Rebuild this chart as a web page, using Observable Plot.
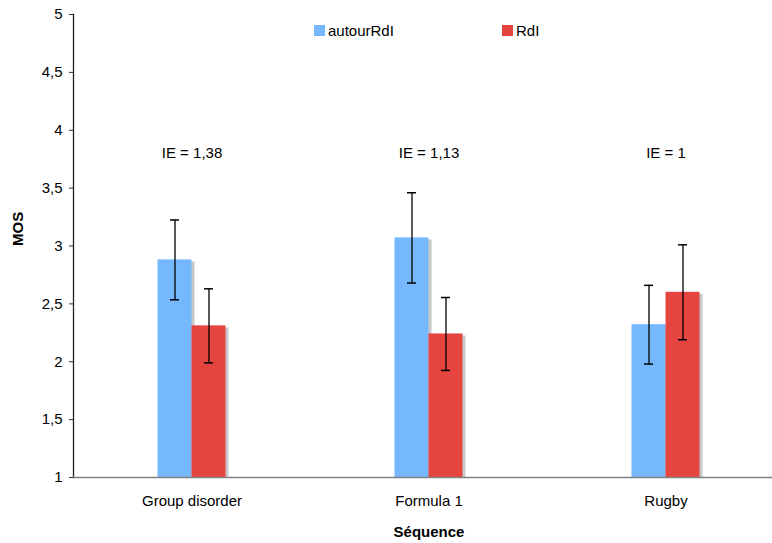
<!DOCTYPE html>
<html>
<head>
<meta charset="utf-8">
<script src="https://cdn.jsdelivr.net/npm/d3@7"></script>
<script src="https://cdn.jsdelivr.net/npm/@observablehq/plot@0.6"></script>
<style>
  html, body { margin: 0; padding: 0; background: #fff; }
  #wrap { position: relative; width: 772px; height: 543px; font-family: "Liberation Sans", Arial, sans-serif; }
  #legend { position: absolute; top: 22px; left: 0; width: 772px; font-size: 15px; color: #000; }
  .item { position: absolute; display: flex; align-items: center; }
  .sw { width: 11px; height: 11px; margin-right: 3px; }
</style>
</head>
<body>
<div id="wrap">
  <div id="chart"></div>
  <div id="legend"></div>
</div>
<script>
const categories = ["Group disorder", "Formula 1", "Rugby"];
const seriesNames = ["autourRdI", "RdI"];
const autourMean = [2.88, 3.07, 2.32];
const autourErr  = [0.345, 0.39, 0.34];
const rdiMean    = [2.31, 2.24, 2.60];
const rdiErr     = [0.32, 0.315, 0.41];
const ieLabels   = ["IE = 1,38", "IE = 1,13", "IE = 1"];
const yTicks     = [1, 1.5, 2, 2.5, 3, 3.5, 4, 4.5, 5];
const ieLevel    = 3.8;

const colors = { "autourRdI": "#75b8fd", "RdI": "#e6453f" };
const shadow = "#c8c8c8";

const autourRows = categories.map((c, i) => ({ cat: c, series: seriesNames[0], mean: autourMean[i], lo: autourMean[i] - autourErr[i], hi: autourMean[i] + autourErr[i] }));
const rdiRows = categories.map((c, i) => ({ cat: c, series: seriesNames[1], mean: rdiMean[i], lo: rdiMean[i] - rdiErr[i], hi: rdiMean[i] + rdiErr[i] }));
const ieRows = categories.map((c, i) => ({ cat: c, label: ieLabels[i] }));

const xRange = [73, 784];
const half = (xRange[1] - xRange[0]) / categories.length / 2;
const barW = 34;
const capW = 9;
const font = "Liberation Sans, Arial, sans-serif";

function insets(side) {
  return side < 0 ? { insetLeft: half - barW, insetRight: half } : { insetLeft: half, insetRight: half - barW };
}
function shadowMarks(rows, side) {
  return [Plot.barY(rows, { x: "cat", y1: 1, y2: "mean", fill: shadow, ...insets(side), dx: 3, dy: 2, insetBottom: 2 })];
}
function frontMarks(rows, side, color) {
  return [Plot.barY(rows, { x: "cat", y1: 1, y2: "mean", fill: color, ...insets(side) })];
}
function errMarks(rows, side) {
  const off = side * barW / 2;
  return [
    Plot.ruleX(rows, { x: "cat", y1: "lo", y2: "hi", dx: off, stroke: "#000", strokeWidth: 1.3 }),
    Plot.tickY(rows, { x: "cat", y: "hi", dx: off, stroke: "#000", strokeWidth: 1.5, insetLeft: half - capW / 2, insetRight: half - capW / 2 }),
    Plot.tickY(rows, { x: "cat", y: "lo", dx: off, stroke: "#000", strokeWidth: 1.5, insetLeft: half - capW / 2, insetRight: half - capW / 2 })
  ];
}

const chart = Plot.plot({
  width: 772,
  height: 543,
  marginLeft: 73,
  marginRight: 0,
  marginTop: 14,
  marginBottom: 66,
  style: { fontFamily: font, fontSize: "15px", color: "#000", background: "#fff" },
  x: { type: "band", domain: categories, range: xRange, padding: 0, label: null },
  y: { domain: [1, 5], ticks: yTicks, label: null },
  marks: [
    ...shadowMarks(autourRows, -1),
    ...shadowMarks(rdiRows, 1),
    ...frontMarks(autourRows, -1, colors["autourRdI"]),
    ...frontMarks(rdiRows, 1, colors["RdI"]),
    ...errMarks(autourRows, -1),
    ...errMarks(rdiRows, 1),
    Plot.text(ieRows, { x: "cat", y: ieLevel, text: "label", fontSize: 15, fill: "#000" }),
    Plot.axisY({ ticks: yTicks, tickFormat: d => String(d).replace(".", ","), tickSize: 4, tickPadding: 7, fontSize: 15, label: null, stroke: "#333" }),
    Plot.axisX({ tickSize: 0, tickPadding: 18, fontSize: 15, label: null }),
    Plot.frame({ anchor: "left", stroke: "#222", strokeWidth: 1.3 }),
    Plot.ruleY([1], { stroke: "#808080", strokeWidth: 1.5 }),
    Plot.text(["MOS"], { frameAnchor: "left", dx: -55, rotate: -90, fontWeight: "bold", fontSize: 15, fill: "#000" }),
    Plot.text(["Séquence"], { frameAnchor: "bottom", dx: 6, dy: 59, fontWeight: "bold", fontSize: 15, fill: "#000" })
  ]
});
document.getElementById("chart").appendChild(chart);

const legend = document.getElementById("legend");
const legendLeft = { "autourRdI": 314, "RdI": 502 };
seriesNames.forEach(s => {
  const it = document.createElement("div");
  it.className = "item";
  it.style.left = legendLeft[s] + "px";
  const sw = document.createElement("span");
  sw.className = "sw";
  sw.style.background = colors[s];
  const t = document.createElement("span");
  t.textContent = s;
  it.appendChild(sw);
  it.appendChild(t);
  legend.appendChild(it);
});
</script>
</body>
</html>
